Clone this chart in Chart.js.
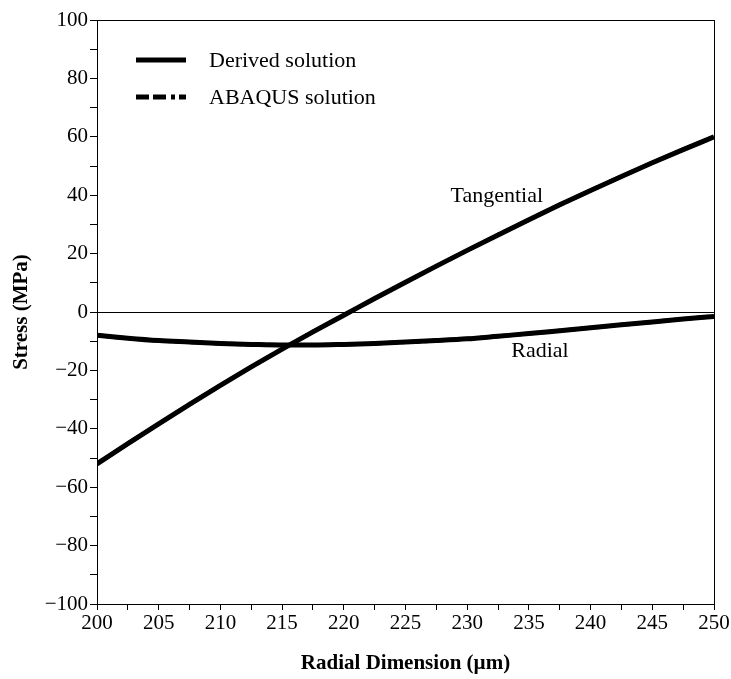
<!DOCTYPE html>
<html>
<head>
<meta charset="utf-8">
<script src="https://cdn.jsdelivr.net/npm/chart.js@4/dist/chart.umd.min.js"></script>
<style>
  html, body { margin: 0; padding: 0; background: #fff; }
  #wrap { width: 731px; height: 679px; }
</style>
</head>
<body>
<div id="wrap"><canvas id="stressChart" width="731" height="679"></canvas></div>
<script>
// radial positions (um)
const radii = [200, 202.5, 205, 207.5, 210, 212.5, 215, 217.5, 220, 222.5, 225,
               227.5, 230, 232.5, 235, 237.5, 240, 242.5, 245, 247.5, 250];

// derived solution (MPa)
const derivedTangential = [-52, -45.1, -38.3, -31.6, -25.1, -18.8, -12.7, -6.8, -1.1, 4.6, 10.2,
                           15.7, 21.1, 26.4, 31.6, 36.7, 41.6, 46.4, 51.1, 55.6, 60];
const derivedRadial = [-8, -9, -9.8, -10.3, -10.8, -11.1, -11.3, -11.3, -11.1, -10.8, -10.3,
                       -9.8, -9.2, -8.3, -7.4, -6.4, -5.4, -4.4, -3.4, -2.4, -1.5];

// ABAQUS solution (MPa), sits on top of the derived curves
const abaqusTangential = [-52, -45.1, -38.3, -31.6, -25.1, -18.8, -12.7, -6.8, -1.1, 4.6, 10.2,
                          15.7, 21.1, 26.4, 31.6, 36.7, 41.6, 46.4, 51.1, 55.6, 60];
const abaqusRadial = [-8, -9, -9.8, -10.3, -10.8, -11.1, -11.3, -11.3, -11.1, -10.8, -10.3,
                      -9.8, -9.2, -8.3, -7.4, -6.4, -5.4, -4.4, -3.4, -2.4, -1.5];

const legendItems = ["Derived solution", "ABAQUS solution"];
const curveLabels = [
    { text: "Tangential", x: 232.4, y: 39.5 },
    { text: "Radial", x: 235.9, y: -13.5 }
];

const serif = "'Liberation Serif', 'DejaVu Serif', serif";
const points = vals => radii.map((r, i) => ({ x: r, y: vals[i] }));

// box round the plot, legend and curve names
const extras = {
    id: "extras",
    afterDraw(chart) {
        const { ctx, chartArea: a, scales } = chart;
        ctx.save();
        ctx.strokeStyle = "#000";
        ctx.lineWidth = 1;
        ctx.strokeRect(a.left + 0.5, a.top + 0.5, a.right - a.left, a.bottom - a.top);

        // legend
        ctx.lineWidth = 5;
        ctx.lineCap = "butt";
        ctx.beginPath();
        ctx.moveTo(136, 60); ctx.lineTo(186, 60);
        ctx.stroke();
        ctx.setLineDash([13, 4, 13, 5, 4, 4]);
        ctx.beginPath();
        ctx.moveTo(136, 97); ctx.lineTo(186, 97);
        ctx.stroke();
        ctx.setLineDash([]);

        ctx.fillStyle = "#000";
        ctx.font = "22px " + serif;
        ctx.textBaseline = "middle";
        ctx.textAlign = "left";
        ctx.fillText(legendItems[0], 209, 61);
        ctx.fillText(legendItems[1], 209, 98);

        ctx.textAlign = "center";
        curveLabels.forEach(l => {
            ctx.fillText(l.text, scales.x.getPixelForValue(l.x), scales.y.getPixelForValue(l.y));
        });
        ctx.restore();
    }
};

new Chart(document.getElementById("stressChart"), {
    type: "line",
    data: {
        datasets: [
            { label: "Derived Tangential", data: points(derivedTangential), borderColor: "#000", borderWidth: 5 },
            { label: "Derived Radial", data: points(derivedRadial), borderColor: "#000", borderWidth: 5 },
            { label: "ABAQUS Tangential", data: points(abaqusTangential), borderColor: "#000", borderWidth: 4, borderDash: [12, 4, 12, 4, 3, 4] },
            { label: "ABAQUS Radial", data: points(abaqusRadial), borderColor: "#000", borderWidth: 4, borderDash: [12, 4, 12, 4, 3, 4] }
        ]
    },
    options: {
        responsive: false,
        animation: false,
        elements: { point: { radius: 0 }, line: { cubicInterpolationMode: "monotone" } },
        layout: { padding: { top: 20, right: 17, left: 0, bottom: 0 } },
        plugins: { legend: { display: false }, tooltip: { enabled: false } },
        scales: {
            x: {
                type: "linear",
                min: 200,
                max: 250,
                afterFit: s => { s.height = 75; },
                border: { color: "#000", width: 1 },
                grid: { drawOnChartArea: false, drawTicks: true, tickLength: 6, color: "#000" },
                ticks: {
                    stepSize: 2.5,
                    color: "#000",
                    padding: 1,
                    maxRotation: 0,
                    autoSkip: false,
                    font: { family: serif, size: 21 },
                    callback: v => (v % 5 === 0 ? String(v) : "")
                },
                title: {
                    display: true,
                    text: "Radial Dimension (\u00b5m)",
                    color: "#000",
                    font: { family: serif, size: 21, weight: "bold" },
                    padding: { top: 0, bottom: 3 }
                }
            },
            y: {
                min: -100,
                max: 100,
                afterFit: s => { s.width = 97; },
                border: { color: "#000", width: 1 },
                grid: {
                    drawOnChartArea: true,
                    drawTicks: true,
                    tickLength: 7,
                    tickColor: "#000",
                    color: c => (c.tick && c.tick.value === 0 ? "#000" : "rgba(0,0,0,0)")
                },
                ticks: {
                    stepSize: 10,
                    color: "#000",
                    padding: 2,
                    autoSkip: false,
                    font: { family: serif, size: 21 },
                    callback: v => (v % 20 === 0 ? (v < 0 ? "\u2212" + Math.abs(v) : String(v)) : "")
                },
                title: {
                    display: true,
                    text: "Stress (MPa)",
                    color: "#000",
                    font: { family: serif, size: 21, weight: "bold" },
                    padding: { top: 9, bottom: 0 }
                }
            }
        }
    },
    plugins: [extras]
});
</script>
</body>
</html>
